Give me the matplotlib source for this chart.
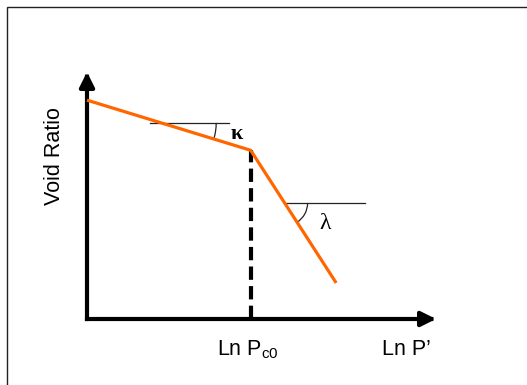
import numpy as np
import matplotlib
matplotlib.use("Agg")
import matplotlib.pyplot as plt
from matplotlib.patches import Arc, Rectangle
from matplotlib.transforms import ScaledTranslation

plt.rcParams['mathtext.fontset'] = 'custom'
plt.rcParams['mathtext.rm'] = 'Liberation Sans'

# data (arbitrary ln-space units)
ln_p = [0.0, 4.69, 7.14]
void_ratio = [8.86, 6.83, 1.46]
ln_pc0 = 4.69
x_max, y_max = 10.0, 10.0
kappa_ref = dict(y=7.94, x0=1.81, x1=4.07)
lambda_ref = dict(y=4.70, x0=5.70, x1=7.97)

W, H = 527, 385
fig = plt.figure(figsize=(W / 100, H / 100), dpi=100)
ax = fig.add_axes([0, 0, 1, 1])
sx, sy = 34.9, 24.7
ox, oy = 87, 319
ax.set_xlim(-ox / sx, (W - ox) / sx)
ax.set_ylim(-(H - oy) / sy, oy / sy)
ax.axis('off')

# frame
fig.patches.append(Rectangle((7 / W, -0.2), 1.5, 1.2 - 7 / H, transform=fig.transFigure,
                             fill=False, edgecolor='#222222', lw=1.0))

# axes arrows
arrow_kw = dict(arrowstyle='-|>,head_length=0.68,head_width=0.34', lw=3.0, color='black',
                shrinkA=0, shrinkB=0, mutation_scale=13, capstyle='projecting')
ax.annotate('', xy=(x_max, 0), xytext=(0, 0), arrowprops=arrow_kw)
ax.annotate('', xy=(0, y_max), xytext=(0, 0), arrowprops=arrow_kw)

# dashed line at Pc0
ax.plot([ln_pc0, ln_pc0], [0, void_ratio[1]], color='black', lw=3.0,
        dashes=(3.2, 1.5), solid_capstyle='butt', zorder=2)

# curve
ax.plot(ln_p, void_ratio, color='#FF6600', lw=2.3, zorder=3, solid_capstyle='butt')

# reference horizontal lines
for ref in (kappa_ref, lambda_ref):
    ax.plot([ref['x0'], ref['x1']], [ref['y'], ref['y']], color='#222222', lw=0.9, zorder=1)


def seg_x_at_y(xa, ya, xb, yb, y):
    return xa + (y - ya) * (xb - xa) / (yb - ya)


def draw_arc(xv, yv, xb, yb, r_px):
    p0 = ax.transData.transform((xv, yv))
    p1 = ax.transData.transform((xb, yb))
    ang = np.degrees(np.arctan2(p1[1] - p0[1], p1[0] - p0[0]))
    tr = fig.dpi_scale_trans + ScaledTranslation(xv, yv, ax.transData)
    d = 2 * r_px / fig.dpi
    ax.add_patch(Arc((0, 0), d, d, theta1=ang, theta2=0, transform=tr,
                     color='#222222', lw=0.9))


xk = seg_x_at_y(ln_p[0], void_ratio[0], ln_p[1], void_ratio[1], kappa_ref['y'])
draw_arc(xk, kappa_ref['y'], ln_p[1], void_ratio[1], 55)
xl = seg_x_at_y(ln_p[1], void_ratio[1], ln_p[2], void_ratio[2], lambda_ref['y'])
draw_arc(xl, lambda_ref['y'], ln_p[2], void_ratio[2], 23)

# symbols
ax.text((237 - ox) / sx, (oy - 134) / sy, 'κ', family='Liberation Serif', fontweight='bold',
        fontsize=16, ha='center', va='center')
ax.text((325 - ox) / sx, (oy - 223) / sy, 'λ', family='Liberation Serif',
        fontsize=17, ha='center', va='center')

# labels
ax.text((55 - ox) / sx, (oy - 156) / sy, 'Void Ratio', family='Liberation Sans', fontsize=15.5,
        rotation=90, ha='center', va='center')
ax.text((217 - ox) / sx, (oy - 355) / sy, r'Ln P$_{\mathrm{c0}}$', family='Liberation Sans',
        fontsize=15.5, ha='left', va='baseline')
ax.text((382 - ox) / sx, (oy - 355) / sy, 'Ln P’', family='Liberation Sans',
        fontsize=15.5, ha='left', va='baseline')

fig.savefig('out.png', dpi=100)
